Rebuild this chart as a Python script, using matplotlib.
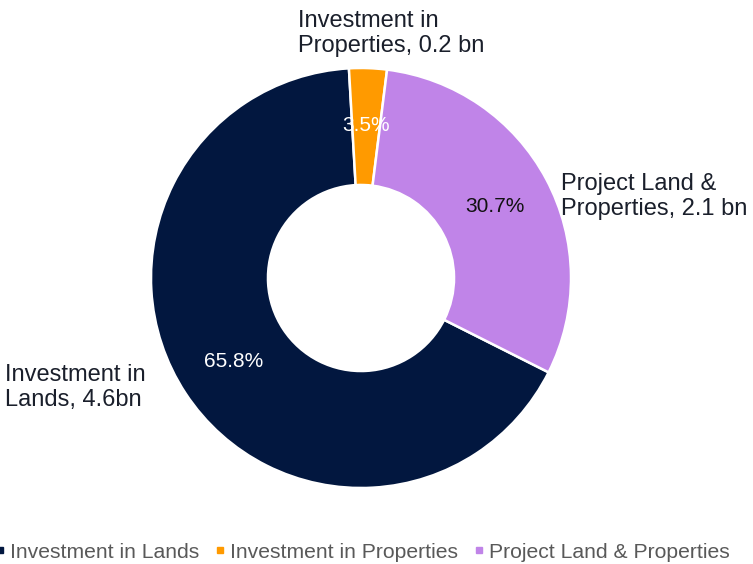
import matplotlib
matplotlib.use("Agg")
import matplotlib.pyplot as plt
from matplotlib.lines import Line2D
import numpy as np

plt.rcParams['font.family'] = ['Liberation Sans', 'DejaVu Sans']

# data
categories = ['Investment in Lands', 'Investment in Properties', 'Project Land & Properties']
values = [4.6, 0.2, 2.1]
pct_labels = ['65.8%', '3.5%', '30.7%']
outer_labels = ['Investment in\nLands, 4.6bn',
                'Investment in\nProperties, 0.2 bn',
                'Project Land &\nProperties, 2.1 bn']
colors = ['#02173F', '#FF9A00', '#C084E8']
pct_colors = ['white', 'white', '#111111']

W, H = 753, 564
fig = plt.figure(figsize=(W / 100, H / 100), dpi=100)

# donut centre and radius in pixels
cx, cy, r = 361, 278, 210
ax = fig.add_axes([(cx - r) / W, (H - cy - r) / H, 2 * r / W, 2 * r / H])

wedges, _ = ax.pie(values, colors=colors, startangle=-26.7, counterclock=False,
                   radius=1, wedgeprops=dict(width=0.557, edgecolor='white', linewidth=1.8))
ax.set_xlim(-1, 1)
ax.set_ylim(-1, 1)
ax.set_aspect('equal')
ax.axis('off')

# percentage labels in the middle of the ring
for w, txt, c in zip(wedges, pct_labels, pct_colors):
    ang = np.deg2rad((w.theta1 + w.theta2) / 2)
    ax.text(0.725 * np.cos(ang), 0.725 * np.sin(ang), txt, color=c, fontsize=15,
            ha='center', va='center')

# outside labels (pixel positions of last-line baseline)
label_pos = [(5, 406), (298, 52), (561, 215)]
for txt, (x, y) in zip(outer_labels, label_pos):
    fig.text(x / W, 1 - y / H, txt, fontsize=17, color='#1a1f2b',
             ha='left', va='baseline', linespacing=1.2)

handles = [Line2D([], [], marker='s', linestyle='none', markersize=5,
                  markerfacecolor=c, markeredgecolor=c) for c in colors]
leg = fig.legend(handles, categories, loc='center', bbox_to_anchor=(362 / W, 1 - 552 / H),
                 ncol=3, frameon=False, fontsize=15.2, handlelength=0.5,
                 handletextpad=0.22, columnspacing=0.75, borderpad=0)
for t in leg.get_texts():
    t.set_color('#595959')

fig.savefig('out.png', dpi=100)
